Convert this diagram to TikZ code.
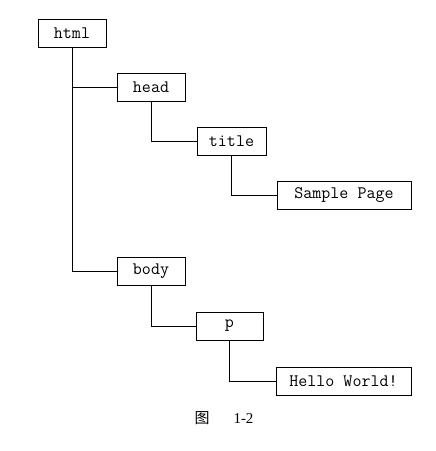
\documentclass[tikz,border=0pt]{standalone}
\usepackage{fontspec}
\newfontfamily\cjk{Noto Sans CJK SC}
\newfontfamily\capfont{Liberation Serif}
\begin{document}
\begin{tikzpicture}[x=1pt, y=-1pt, line width=0.8pt,
    box/.style={draw, rectangle, minimum height=28pt, inner sep=0pt, font=\ttfamily\fontsize{17.5}{17.5}\selectfont}]
    \useasboundingbox (0,0) rectangle (436,451);
    \node[box, minimum width=68pt] (A) at (72, 33.5) {html};
    \node[box, minimum width=68pt] (B) at (151, 87) {head};
    \node[box, minimum width=69pt] (C) at (231.5, 141.5) {title};
    \node[box, minimum width=134pt] (D) at (344, 195) {Sample Page};
    \node[box, minimum width=68pt] (E) at (151, 271.5) {body};
    \node[box, minimum width=67pt] (F) at (229.5, 326) {p};
    \node[box, minimum width=135pt] (G) at (343.5, 381.5) {Hello World!};

    \draw (A.south) |- (B.west);
    \draw (A.south) |- (E.west);
    \draw (B.south) |- (C.west);
    \draw (C.south) |- (D.west);
    \draw (E.south) |- (F.west);
    \draw (F.south) |- (G.west);

    \node (H) at (224, 418) {\fontsize{15}{15}\selectfont{\cjk 图}\hspace{24pt}{\capfont 1-2}};
\end{tikzpicture}
\end{document}
